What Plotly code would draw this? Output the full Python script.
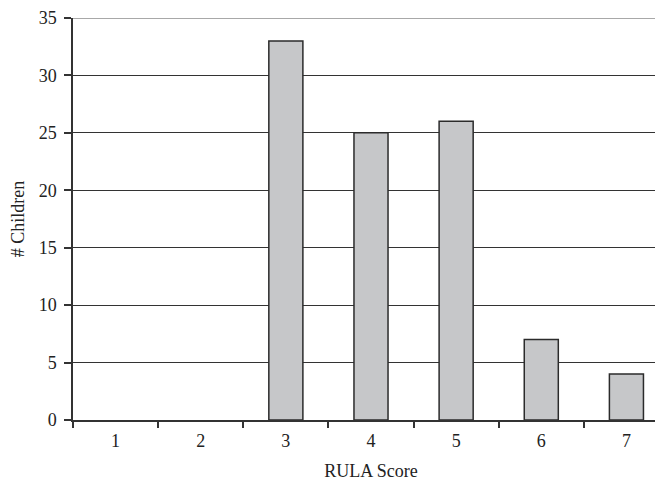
import plotly.graph_objects as go

# RULA score distribution
scores = ["1", "2", "3", "4", "5", "6", "7"]
children = [0, 0, 33, 25, 26, 7, 4]
y_max = 35

# no outline on empty categories
outline_widths = [1.5 if v > 0 else 0 for v in children]

fig = go.Figure()

fig.add_trace(go.Bar(
    x=scores,
    y=children,
    width=0.4,
    marker=dict(color="#c6c7c9", line=dict(color="#2b2b2b", width=outline_widths)),
    showlegend=False,
))

font_family = "Liberation Serif"

# page has an 8px body margin, so margins are compensated and the right edge runs off
fig.update_layout(
    width=663, height=485,
    margin=dict(l=65, r=2, t=10, b=73),
    plot_bgcolor="white",
    paper_bgcolor="white",
    font=dict(family=font_family, size=18, color="#222222"),
    xaxis=dict(
        type="category",
        range=[-0.5, 6.5],
        tickson="boundaries",
        ticks="outside", ticklen=6, tickcolor="#333333", tickwidth=1.5,
        ticklabelstandoff=4,
        showline=True, linecolor="#333333", linewidth=1.5,
        showgrid=False,
        automargin=False,
        title=dict(text="RULA Score", standoff=14, font=dict(size=18)),
    ),
    yaxis=dict(
        range=[0, y_max], dtick=5,
        ticks="outside", ticklen=7, tickcolor="#333333", tickwidth=1.5,
        ticklabelstandoff=4, ticklabeloverflow="allow",
        showline=True, linecolor="#333333", linewidth=1.5,
        showgrid=True, gridcolor="#333333", gridwidth=1.2,
        zeroline=False,
        automargin=False,
        title=dict(text="# Children", standoff=14, font=dict(size=18)),
    ),
)

# lighter top border line at the y maximum
fig.add_shape(type="line", xref="paper", x0=0, x1=1, yref="y", y0=y_max, y1=y_max,
              line=dict(color="#a8a8a8", width=2), layer="above")

fig.write_html("out.html")
